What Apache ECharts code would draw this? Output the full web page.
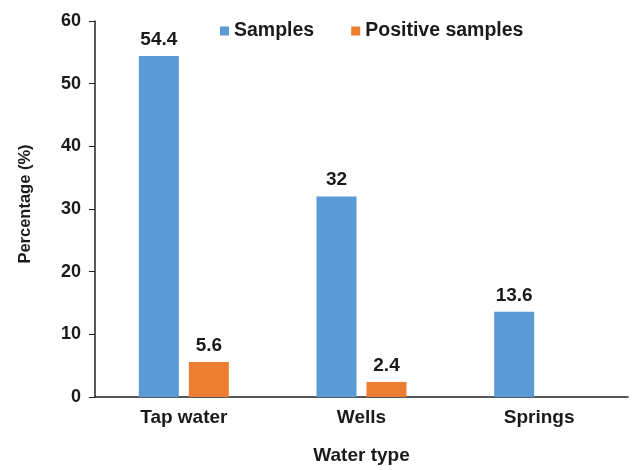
<!DOCTYPE html>
<html>
<head>
<meta charset="utf-8">
<script src="https://cdn.jsdelivr.net/npm/echarts@6/dist/echarts.min.js"></script>
<style>html,body{margin:0;padding:0;background:#fff;}#c{width:634px;height:470px;}</style>
</head>
<body>
<div id="c"></div>
<script>
const categories = ['Tap water', 'Wells', 'Springs'];
const samples = [54.4, 32, 13.6];
const positiveSamples = [5.6, 2.4, null];
const yTicks = [0, 10, 20, 30, 40, 50, 60];

const font = 'Liberation Sans, Arial, sans-serif';
const txt = '#1a1a1a';
const chart = echarts.init(document.getElementById('c'), null, {renderer: 'canvas'});
chart.setOption({
  animation: false,
  backgroundColor: '#fff',
  grid: {left: 95, right: 6, top: 21, bottom: 71, containLabel: false},
  legend: {
    top: 16, left: 215,
    itemWidth: 9, itemHeight: 9, itemGap: 37,
    icon: 'rect',
    textStyle: {fontFamily: font, fontSize: 19.5, fontWeight: 'bold', color: txt, padding: [0, 0, 0, 0]},
    data: ['Samples', 'Positive samples']
  },
  xAxis: {
    type: 'category',
    data: categories,
    name: 'Water type',
    nameLocation: 'middle',
    nameGap: 49,
    nameTextStyle: {fontFamily: font, fontSize: 19, fontWeight: 'bold', color: txt},
    axisLine: {lineStyle: {color: '#222', width: 1.5}},
    axisTick: {alignWithLabel: true, length: 5, lineStyle: {color: '#222'}},
    axisLabel: {fontFamily: font, fontSize: 19, fontWeight: 'bold', color: txt, margin: 11}
  },
  yAxis: {
    type: 'value',
    min: yTicks[0], max: yTicks[yTicks.length - 1], interval: 10,
    name: 'Percentage (%)',
    nameLocation: 'middle',
    nameGap: 61,
    nameRotate: 90,
    nameTextStyle: {fontFamily: font, fontSize: 16.5, fontWeight: 'bold', color: txt, padding: [0, 0, 0, 10]},
    axisLine: {show: true, lineStyle: {color: '#222', width: 1.5}},
    axisTick: {show: true, length: 6, lineStyle: {color: '#222'}},
    splitLine: {show: false},
    axisLabel: {fontFamily: font, fontSize: 18, fontWeight: 'bold', color: txt, margin: 14}
  },
  series: [
    {
      name: 'Samples', type: 'bar', data: samples,
      barWidth: 40, barGap: '25%',
      itemStyle: {color: '#5B9BD5'},
      label: {show: true, position: 'top', distance: 7, fontFamily: font, fontSize: 19, fontWeight: 'bold', color: txt}
    },
    {
      name: 'Positive samples', type: 'bar', data: positiveSamples,
      barWidth: 40,
      itemStyle: {color: '#ED7D31'},
      label: {show: true, position: 'top', distance: 7, fontFamily: font, fontSize: 19, fontWeight: 'bold', color: txt}
    }
  ]
});
</script>
</body>
</html>
